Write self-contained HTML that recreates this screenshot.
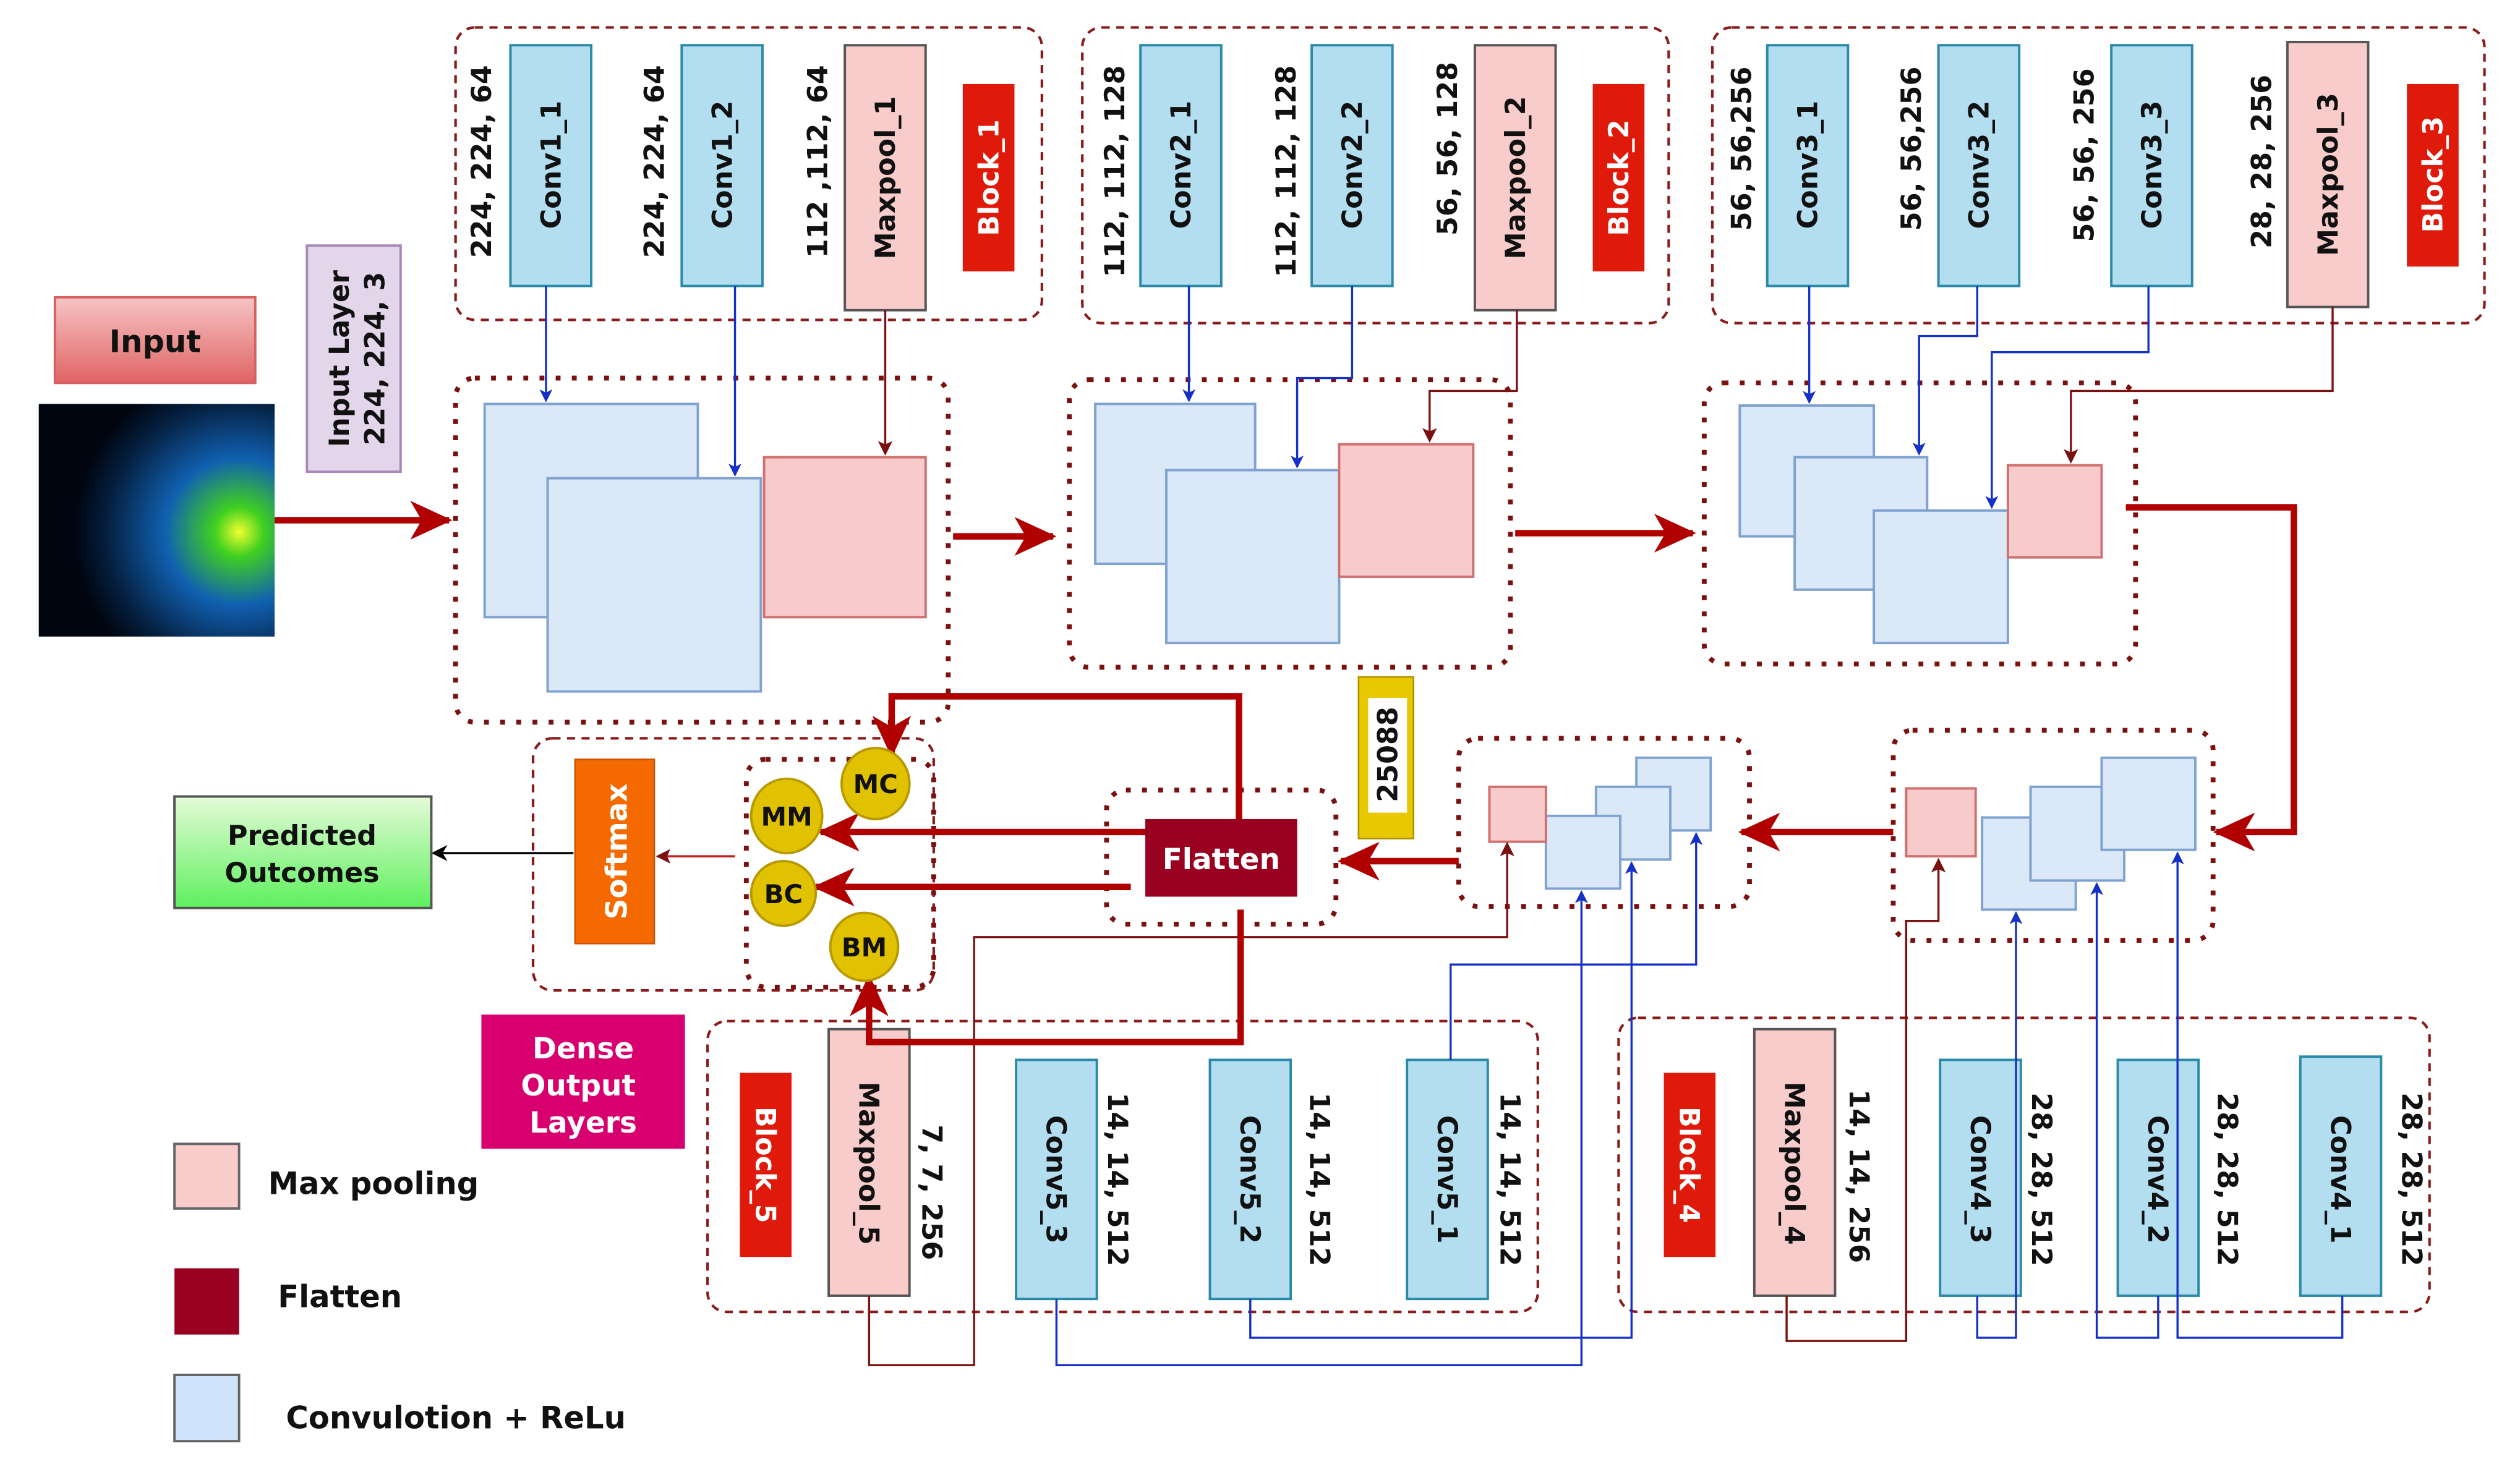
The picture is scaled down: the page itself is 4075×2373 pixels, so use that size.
<!DOCTYPE html>
<html><head><meta charset="utf-8"><style>html,body{margin:0;padding:0;background:#fff}svg{display:block}</style></head>
<body>
<svg width="4075" height="2373" viewBox="0 0 1560 908" preserveAspectRatio="none" xmlns="http://www.w3.org/2000/svg" font-family="DejaVu Sans, Liberation Sans, sans-serif" font-weight="bold">
<defs>
<marker id="ab" markerWidth="8" markerHeight="8" refX="7" refY="4" orient="auto" markerUnits="userSpaceOnUse"><path d="M0,0 L8,4 L0,8 L2,4 z" fill="#1530c8"/></marker>
<marker id="ar" markerWidth="9" markerHeight="9" refX="8" refY="4.5" orient="auto" markerUnits="userSpaceOnUse"><path d="M0,0 L9,4.5 L0,9 L2,4.5 z" fill="#7a1010"/></marker>
<marker id="aR" markerWidth="26" markerHeight="24" refX="24" refY="12" orient="auto" markerUnits="userSpaceOnUse"><path d="M0,0 L26,12 L0,24 L7,12 z" fill="#b00000"/></marker>
<marker id="ak" markerWidth="10" markerHeight="10" refX="9" refY="5" orient="auto" markerUnits="userSpaceOnUse"><path d="M0,0 L10,5 L0,10 L3,5 z" fill="#000"/></marker>
<linearGradient id="gi" x1="0" y1="0" x2="0" y2="1"><stop offset="0" stop-color="#f6c4c4"/><stop offset="1" stop-color="#e06464"/></linearGradient>
<linearGradient id="gp" x1="0" y1="0" x2="0" y2="1"><stop offset="0" stop-color="#e4fbd8"/><stop offset="1" stop-color="#5ef05e"/></linearGradient>
<radialGradient id="img" cx="0.85" cy="0.55" r="0.7"><stop offset="0" stop-color="#f0ff30"/><stop offset="0.15" stop-color="#40d020"/><stop offset="0.45" stop-color="#1060b0"/><stop offset="0.8" stop-color="#052040"/><stop offset="1" stop-color="#000510"/></radialGradient>
</defs>

<g fill="none" stroke="#8b1a1a" stroke-width="1.6" stroke-dasharray="5,4">
<rect x="282" y="17" width="363" height="181" rx="12"/>
<rect x="670" y="17" width="363" height="183" rx="12"/>
<rect x="1060" y="17" width="478" height="183" rx="12"/>
<rect x="330" y="457" width="248" height="156" rx="12"/>
<rect x="438" y="632" width="514" height="180" rx="12"/>
<rect x="1002" y="630" width="502" height="182" rx="12"/>
</g>
<g fill="none" stroke="#7a1010" stroke-width="3" stroke-dasharray="3,7">
<rect x="282" y="234" width="305" height="213" rx="12"/>
<rect x="662" y="235" width="273" height="178" rx="12"/>
<rect x="1055" y="237" width="267" height="174" rx="12"/>
<rect x="1172" y="452" width="198" height="130" rx="12"/>
<rect x="903" y="457" width="180" height="104" rx="12"/>
<rect x="685" y="489" width="142" height="83" rx="12"/>
<rect x="462" y="470" width="116" height="141" rx="12"/>
</g>

<rect x="34" y="184" width="124" height="53" fill="url(#gi)" stroke="#d86060" stroke-width="1.5"/>
<text x="96" y="218" font-size="19" text-anchor="middle" fill="#111">Input</text>
<rect x="24" y="250" width="146" height="144" fill="url(#img)"/>
<rect x="190" y="152" width="58" height="140" fill="#e4d6ea" stroke="#a888b8" stroke-width="1.5"/>
<text transform="translate(216,222) rotate(-90)" font-size="17" text-anchor="middle" fill="#111">Input Layer</text>
<text transform="translate(238,222) rotate(-90)" font-size="17" text-anchor="middle" fill="#111">224, 224, 3</text>

<g stroke="#2a8aa8" stroke-width="1.5" fill="#b3def0">
<rect x="316" y="28" width="50" height="149"/><rect x="422" y="28" width="50" height="149"/>
<rect x="706" y="28" width="50" height="149"/><rect x="812" y="28" width="50" height="149"/>
<rect x="1094" y="28" width="50" height="149"/><rect x="1200" y="28" width="50" height="149"/><rect x="1307" y="28" width="50" height="149"/>
<rect x="629" y="656" width="50" height="148"/><rect x="749" y="656" width="50" height="148"/><rect x="871" y="656" width="50" height="148"/>
<rect x="1201" y="656" width="50" height="146"/><rect x="1311" y="656" width="50" height="146"/><rect x="1424" y="654" width="50" height="148"/>
</g>
<g stroke="#555" stroke-width="1.5" fill="#f9cccc">
<rect x="523" y="28" width="50" height="164"/><rect x="913" y="28" width="50" height="164"/><rect x="1416" y="26" width="50" height="164"/>
<rect x="513" y="637" width="50" height="165"/><rect x="1086" y="637" width="50" height="165"/>
</g>
<g fill="#e01a0a">
<rect x="596" y="52" width="32" height="116"/><rect x="986" y="52" width="32" height="116"/><rect x="1490" y="52" width="32" height="113"/>
<rect x="458" y="664" width="32" height="114"/><rect x="1030" y="664" width="32" height="114"/>
</g>
<g font-size="17" text-anchor="middle" fill="#111">
<text transform="translate(347,102) rotate(-90)">Conv1_1</text>
<text transform="translate(453,102) rotate(-90)">Conv1_2</text>
<text transform="translate(554,110) rotate(-90)">Maxpool_1</text>
<text transform="translate(737,102) rotate(-90)">Conv2_1</text>
<text transform="translate(843,102) rotate(-90)">Conv2_2</text>
<text transform="translate(944,110) rotate(-90)">Maxpool_2</text>
<text transform="translate(1125,102) rotate(-90)">Conv3_1</text>
<text transform="translate(1231,102) rotate(-90)">Conv3_2</text>
<text transform="translate(1338,102) rotate(-90)">Conv3_3</text>
<text transform="translate(1447,108) rotate(-90)">Maxpool_3</text>
<text transform="translate(304,100) rotate(-90)">224, 224, 64</text>
<text transform="translate(411,100) rotate(-90)">224, 224, 64</text>
<text transform="translate(512,100) rotate(-90)">112 ,112, 64</text>
<text transform="translate(696,106) rotate(-90)">112, 112, 128</text>
<text transform="translate(802,106) rotate(-90)">112, 112, 128</text>
<text transform="translate(902,92) rotate(-90)">56, 56, 128</text>
<text transform="translate(1084,92) rotate(-90)">56, 56,256</text>
<text transform="translate(1189,92) rotate(-90)">56, 56,256</text>
<text transform="translate(1296,96) rotate(-90)">56, 56, 256</text>
<text transform="translate(1406,100) rotate(-90)">28, 28, 256</text>
<text transform="translate(648,730) rotate(90)">Conv5_3</text>
<text transform="translate(768,730) rotate(90)">Conv5_2</text>
<text transform="translate(890,730) rotate(90)">Conv5_1</text>
<text transform="translate(532,720) rotate(90)">Maxpool_5</text>
<text transform="translate(1105,720) rotate(90)">Maxpool_4</text>
<text transform="translate(1220,730) rotate(90)">Conv4_3</text>
<text transform="translate(1330,730) rotate(90)">Conv4_2</text>
<text transform="translate(1443,730) rotate(90)">Conv4_1</text>
<text transform="translate(571,738) rotate(90)">7, 7, 256</text>
<text transform="translate(686,730) rotate(90)">14, 14, 512</text>
<text transform="translate(811,730) rotate(90)">14, 14, 512</text>
<text transform="translate(929,730) rotate(90)">14, 14, 512</text>
<text transform="translate(1145,728) rotate(90)">14, 14, 256</text>
<text transform="translate(1258,730) rotate(90)">28, 28, 512</text>
<text transform="translate(1373,730) rotate(90)">28, 28, 512</text>
<text transform="translate(1487,730) rotate(90)">28, 28, 512</text>
</g>
<g font-size="17" text-anchor="middle" fill="#fff">
<text transform="translate(618,110) rotate(-90)">Block_1</text>
<text transform="translate(1008,110) rotate(-90)">Block_2</text>
<text transform="translate(1512,108) rotate(-90)">Block_3</text>
<text transform="translate(468,721) rotate(90)">Block_5</text>
<text transform="translate(1040,721) rotate(90)">Block_4</text>
</g>

<g stroke="#7fa2d0" stroke-width="1.5" fill="#dae8f8">
<rect x="300" y="250" width="132" height="132"/><rect x="339" y="296" width="132" height="132"/>
<rect x="678" y="250" width="99" height="99"/><rect x="722" y="291" width="107" height="107"/>
<rect x="1077" y="251" width="83" height="81"/><rect x="1111" y="283" width="82" height="82"/><rect x="1160" y="316" width="83" height="82"/>
<rect x="1227" y="506" width="58" height="57"/><rect x="1257" y="487" width="58" height="58"/><rect x="1301" y="469" width="58" height="57"/>
<rect x="1013" y="469" width="46" height="45"/><rect x="988" y="487" width="46" height="45"/><rect x="957" y="505" width="46" height="45"/>
</g>
<g stroke="#d07070" stroke-width="1.5" fill="#f7cbcb">
<rect x="473" y="283" width="100" height="99"/><rect x="829" y="275" width="83" height="82"/><rect x="1243" y="288" width="58" height="57"/>
<rect x="1180" y="488" width="43" height="42"/><rect x="922" y="487" width="35" height="34"/>
</g>

<g fill="none" stroke="#1530c8" stroke-width="1.3" marker-end="url(#ab)">
<path d="M338,177 V248"/><path d="M455,177 V294"/>
<path d="M736,177 V248"/><path d="M837,177 V234 H803 V289"/>
<path d="M1120,177 V249"/><path d="M1224,177 V208 H1188 V281"/><path d="M1330,177 V218 H1233 V314"/>
<path d="M654,804 V845 H979 V552"/><path d="M774,804 V828 H1010 V534"/><path d="M898,656 V597 H1050 V516"/>
<path d="M1224,802 V828 H1248 V565"/><path d="M1336,802 V828 H1298 V547"/><path d="M1450,802 V828 H1348 V528"/>
</g>
<g fill="none" stroke="#7a1010" stroke-width="1.3" marker-end="url(#ar)">
<path d="M548,192 V281"/><path d="M939,192 V242 H885 V273"/><path d="M1444,190 V242 H1282 V286"/>
<path d="M538,802 V845 H603 V580 H933 V522"/><path d="M1106,802 V830 H1180 V570 H1200 V532"/>
</g>

<g fill="none" stroke="#b00000" stroke-width="4" marker-end="url(#aR)">
<path d="M170,322 H278"/><path d="M590,332 H652"/><path d="M938,330 H1048"/>
<path d="M1316,314 H1420 V515 H1372"/><path d="M1172,515 H1078"/><path d="M903,533 H830"/>
<path d="M767,507 V431 H552 V467"/><path d="M720,515 H508"/><path d="M700,549 H505"/><path d="M768,563 V645 H538 V605"/>
</g>
<path d="M455,530 H407" stroke="#c02020" stroke-width="1.3" marker-end="url(#ar)"/>
<path d="M355,528 H268" stroke="#000" stroke-width="1.3" marker-end="url(#ak)"/>

<rect x="841" y="419" width="34" height="100" fill="#e8c800" stroke="#b09000"/>
<rect x="847" y="432" width="24" height="71" fill="#fff"/>
<text transform="translate(865,467) rotate(-90)" font-size="17" text-anchor="middle" fill="#111">25088</text>

<rect x="709" y="507" width="94" height="48" fill="#9a0020"/>
<text x="756" y="538" font-size="18" text-anchor="middle" fill="#fff">Flatten</text>

<rect x="356" y="470" width="49" height="114" fill="#f46a00" stroke="#d05000"/>
<text transform="translate(388,527) rotate(-90)" font-size="18" text-anchor="middle" fill="#fff">Softmax</text>
<g fill="#e0c200" stroke="#b89a00" stroke-width="1.5">
<ellipse cx="542" cy="485" rx="21" ry="22"/><ellipse cx="487" cy="505" rx="22" ry="23"/>
<ellipse cx="485" cy="553" rx="20" ry="20"/><ellipse cx="535" cy="586" rx="21" ry="21"/>
</g>
<g font-size="16" text-anchor="middle" fill="#111">
<text x="542" y="491">MC</text><text x="487" y="511">MM</text><text x="485" y="559">BC</text><text x="535" y="592">BM</text>
</g>
<rect x="108" y="493" width="159" height="69" fill="url(#gp)" stroke="#555" stroke-width="1.5"/>
<text x="187" y="523" font-size="17" text-anchor="middle" fill="#111">Predicted</text>
<text x="187" y="546" font-size="17" text-anchor="middle" fill="#111">Outcomes</text>

<rect x="298" y="628" width="126" height="83" fill="#d8006e"/>
<g font-size="18" text-anchor="middle" fill="#fff"><text x="361" y="655">Dense</text><text x="358" y="678">Output</text><text x="361" y="701">Layers</text></g>

<rect x="108" y="708" width="40" height="40" fill="#fbcccc" stroke="#666" stroke-width="1.5"/>
<rect x="108" y="785" width="40" height="41" fill="#9a0020"/>
<rect x="108" y="851" width="40" height="41" fill="#cfe4fb" stroke="#666" stroke-width="1.5"/>
<g font-size="19" fill="#111"><text x="166" y="739">Max pooling</text><text x="172" y="809">Flatten</text><text x="177" y="884">Convulotion + ReLu</text></g>
</svg>
</body></html>
